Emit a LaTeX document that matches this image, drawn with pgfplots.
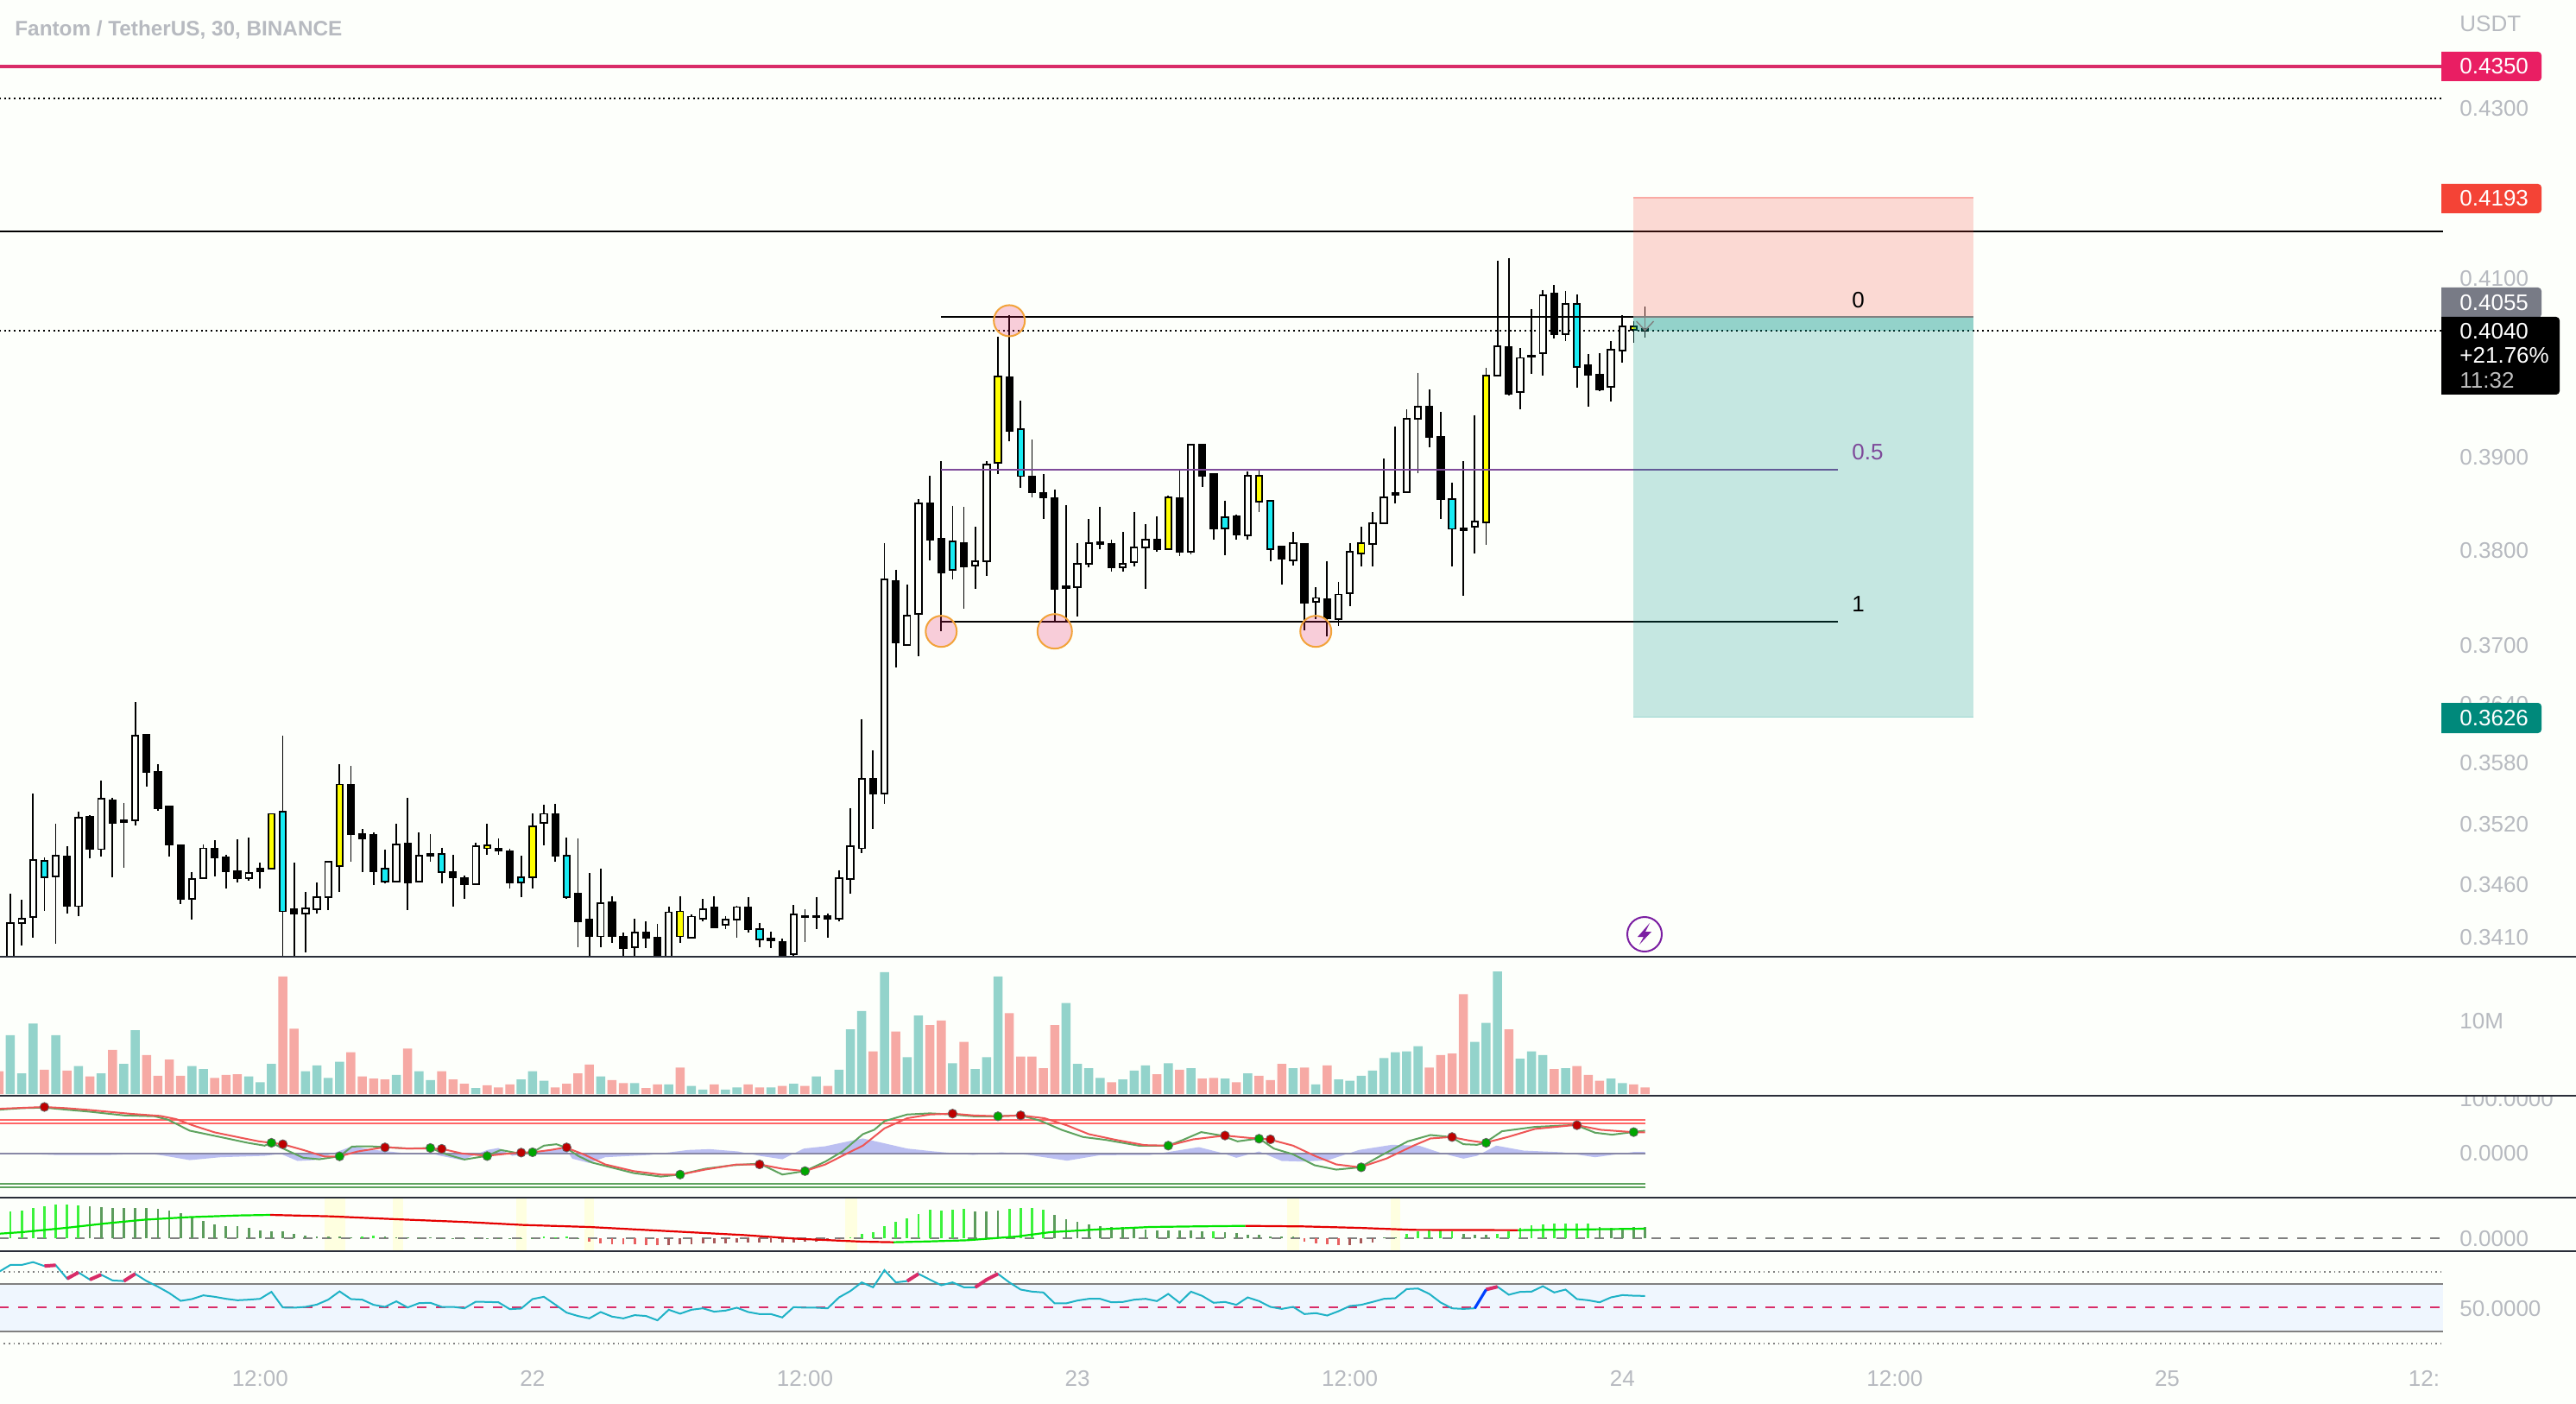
\documentclass[border=0pt]{standalone}
\usepackage{fontspec}
\setmainfont{Liberation Sans}
\usepackage{pgfplots}
\usepackage{pgfplotstable}
\pgfplotsset{compat=1.18}
\definecolor{bg}{HTML}{FDFFFB}
\definecolor{tickgray}{HTML}{B7BAC0}
\definecolor{sep}{HTML}{2A2E39}
\definecolor{candlew}{HTML}{FDFFFB}
\definecolor{candleb}{HTML}{000000}
\definecolor{candley}{HTML}{FFFF00}
\definecolor{candlec}{HTML}{18ECF4}
\definecolor{volt}{HTML}{93D3CB}
\definecolor{volr}{HTML}{F6A9A4}
\definecolor{crim}{HTML}{D92C68}
\definecolor{fibp}{HTML}{7E4A9A}
\definecolor{stopr}{HTML}{F44336}
\definecolor{targ}{HTML}{009688}
\definecolor{kgreen}{HTML}{5EA35E}
\definecolor{dred}{HTML}{EE5555}
\definecolor{areab}{HTML}{BBBFF1}
\definecolor{baseg}{HTML}{8888A6}
\definecolor{ringo}{HTML}{F2A33A}
\definecolor{ringf}{HTML}{E91E63}
\definecolor{stbright}{HTML}{3CF23C}
\definecolor{stdark}{HTML}{5C9C5C}
\definecolor{stred}{HTML}{E86060}
\definecolor{stdred}{HTML}{A85A5A}
\definecolor{rsil}{HTML}{1FB2C6}
\definecolor{band}{HTML}{EFF6FE}
\definecolor{hl}{HTML}{FEFFE0}
\pgfplotstableread{
i O H L C k
0 .3388 .3451 .3375 .3423 w
1 .3423 .3445 .3401 .3427 w
2 .3428 .3549 .3409 .3484 w
3 .3483 .3486 .3434 .3467 c
4 .3468 .3519 .3403 .3488 w
5 .3487 .3497 .3432 .3439 b
6 .3439 .3531 .3430 .3525 w
7 .3526 .3528 .3485 .3494 b
8 .3494 .3562 .3487 .3544 w
9 .3542 .3545 .3467 .3520 b
10 .3523 .3540 .3476 .3521 b
11 .3523 .3641 .3518 .3607 w
12 .3608 .3608 .3556 .3571 b
13 .3571 .3578 .3532 .3534 b
14 .3536 .3536 .3487 .3499 b
15 .3498 .3499 .3441 .3446 b
16 .3446 .3472 .3426 .3465 w
17 .3466 .3499 .3466 .3495 w
18 .3495 .3503 .3468 .3486 b
19 .3486 .3489 .3456 .3473 b
20 .3473 .3504 .3462 .3466 b
21 .3466 .3506 .3464 .3471 w
22 .3475 .3481 .3456 .3473 b
23 .3475 .3529 .3475 .3529 y
24 .3531 .3607 .3380 .3434 c
25 .3436 .3481 .3380 .3432 b
26 .3432 .3453 .3395 .3437 w
27 .3436 .3462 .3432 .3448 w
28 .3448 .3482 .3435 .3482 w
29 .3478 .3578 .3453 .3558 y
30 .3558 .3577 .3482 .3509 b
31 .3509 .3514 .3472 .3505 b
32 .3508 .3511 .3459 .3473 b
33 .3475 .3494 .3461 .3463 c
34 .3463 .3519 .3463 .3499 w
35 .3500 .3545 .3435 .3462 b
36 .3463 .3511 .3463 .3488 w
37 .3490 .3509 .3482 .3488 b
38 .3490 .3496 .3461 .3472 c
39 .3472 .3489 .3438 .3467 b
40 .3466 .3469 .3446 .3460 b
41 .3460 .3501 .3460 .3497 w
42 .3495 .3519 .3489 .3498 y
43 .3495 .3505 .3489 .3493 b
44 .3492 .3495 .3456 .3462 b
45 .3467 .3488 .3448 .3462 c
46 .3467 .3529 .3456 .3517 y
47 .3520 .3538 .3498 .3529 w
48 .3529 .3539 .3482 .3488 b
49 .3488 .3506 .3446 .3448 c
50 .3451 .3505 .3400 .3424 b
51 .3426 .3471 .3380 .3410 b
52 .3410 .3475 .3400 .3442 w
53 .3443 .3449 .3404 .3410 b
54 .3410 .3414 .3380 .3399 b
55 .3400 .3427 .3380 .3414 w
56 .3414 .3424 .3399 .3409 b
57 .3409 .3422 .3380 .3386 b
58 .3386 .3438 .3380 .3433 w
59 .3410 .3449 .3404 .3434 y
60 .3409 .3431 .3408 .3429 w
61 .3427 .3446 .3424 .3436 w
62 .3438 .3449 .3419 .3419 b
63 .3421 .3430 .3417 .3426 w
64 .3426 .3439 .3409 .3438 w
65 .3438 .3448 .3414 .3417 b
66 .3417 .3423 .3400 .3407 c
67 .3408 .3415 .3399 .3406 b
68 .3405 .3408 .3389 .3392 b
69 .3393 .3440 .3389 .3431 w
70 .3430 .3436 .3405 .3428 b
71 .3430 .3448 .3417 .3428 b
72 .3430 .3432 .3409 .3427 b
73 .3427 .3474 .3425 .3466 w
74 .3465 .3535 .3451 .3497 w
75 .3495 .3624 .3491 .3564 w
76 .3564 .3592 .3514 .3549 b
77 .3549 .3807 .3539 .3768 w
78 .3767 .3779 .3677 .3702 b
79 .3700 .3763 .3699 .3731 w
80 .3732 .3854 .3688 .3849 w
81 .3849 .3880 .3789 .3811 b
82 .3812 .3895 .3714 .3776 b
83 .3809 .3847 .3768 .3779 c
84 .3807 .3846 .3738 .3782 b
85 .3783 .3824 .3758 .3788 w
86 .3788 .3895 .3772 .3892 w
87 .3893 .4033 .3881 .3989 y
88 .3988 .4057 .3917 .3929 b
89 .3930 .3962 .3866 .3879 c
90 .3879 .3919 .3856 .3861 b
91 .3861 .3881 .3833 .3856 b
92 .3855 .3865 .3723 .3758 b
93 .3761 .3848 .3724 .3759 b
94 .3760 .3807 .3729 .3785 w
95 .3785 .3833 .3781 .3807 w
96 .3808 .3846 .3801 .3806 b
97 .3806 .3810 .3777 .3781 b
98 .3781 .3819 .3777 .3785 w
99 .3787 .3841 .3782 .3802 w
100 .3802 .3827 .3758 .3811 w
101 .3811 .3836 .3798 .3801 b
102 .3801 .3858 .3800 .3856 y
103 .3855 .3885 .3793 .3798 b
104 .3798 .3914 .3795 .3913 w
105 .3913 .3913 .3867 .3880 b
106 .3881 .3881 .3810 .3823 b
107 .3835 .3853 .3794 .3823 c
108 .3836 .3838 .3810 .3816 b
109 .3815 .3884 .3810 .3880 w
110 .3851 .3887 .3841 .3880 y
111 .3852 .3853 .3788 .3801 c
112 .3803 .3803 .3763 .3790 b
113 .3789 .3819 .3783 .3807 w
114 .3806 .3806 .3715 .3744 b
115 .3745 .3760 .3727 .3749 w
116 .3748 .3788 .3709 .3728 b
117 .3727 .3766 .3720 .3753 w
118 .3754 .3807 .3740 .3798 w
119 .3796 .3824 .3782 .3807 y
120 .3806 .3840 .3782 .3828 w
121 .3828 .3898 .3827 .3856 w
122 .3861 .3934 .3850 .3859 b
123 .3862 .3952 .3862 .3942 w
124 .3942 .3993 .3882 .3955 w
125 .3955 .3974 .3911 .3922 b
126 .3922 .3949 .3833 .3854 b
127 .3854 .3872 .3782 .3822 c
128 .3823 .3895 .3751 .3821 b
129 .3824 .3946 .3796 .3830 w
130 .3829 .3998 .3805 .3990 y
131 .3990 .4120 .3989 .4022 w
132 .4021 .4123 .3968 .3970 b
133 .3971 .4020 .3952 .4009 w
134 .4012 .4064 .3992 .4010 b
135 .4014 .4086 .3990 .4080 w
136 .4082 .4092 .4031 .4036 b
137 .4036 .4085 .4028 .4070 w
138 .4070 .4081 .3976 .3999 c
139 .4001 .4013 .3955 .3991 b
140 .3991 .4014 .3973 .3974 b
141 .3978 .4028 .3961 .4018 w
142 .4017 .4057 .4004 .4045 w
143 .4041 .4050 .4026 .4045 y
144 .4042 .4067 .4032 .4040 b
}\candles
\newcommand\drawcandles{%
 \pgfplotsforeachungrouped \r in {0,...,144}{%
  \pgfplotstablegetelem{\r}{i}\of\candles\let\ci\pgfplotsretval
  \pgfplotstablegetelem{\r}{O}\of\candles\let\cO\pgfplotsretval
  \pgfplotstablegetelem{\r}{H}\of\candles\let\cH\pgfplotsretval
  \pgfplotstablegetelem{\r}{L}\of\candles\let\cL\pgfplotsretval
  \pgfplotstablegetelem{\r}{C}\of\candles\let\cC\pgfplotsretval
  \pgfplotstablegetelem{\r}{k}\of\candles\let\ck\pgfplotsretval
  \pgfmathsetmacro\xl{\ci-0.28}\pgfmathsetmacro\xr{\ci+0.28}%
  \edef\tmp{\noexpand\addplot[forget plot,black,line width=.9pt] coordinates {(\ci,\cH)(\ci,\cL)};
   \noexpand\addplot[forget plot,draw=black,line width=.95pt,fill=candle\ck] coordinates {(\xl,\cO)(\xr,\cO)(\xr,\cC)(\xl,\cC)} --cycle;}%
  \tmp
 }}
\pgfplotsset{panel/.style={scale only axis,width=1415pt,xmin=-0.9125,xmax=214.3,
  axis line style={draw=none},major tick length=0pt,minor tick length=0pt,xtick=\empty,
  ytick pos=right,yticklabel pos=right,
  tick label style={font=\fontsize{13}{15}\selectfont,text=tickgray},
  yticklabel style={anchor=west,xshift=6.2pt,yshift=-.4pt},
  anchor=north west}}
\begin{document}
\begin{tikzpicture}
\path[use as bounding box,fill=bg] (0pt,0pt) rectangle (1492pt,-813pt);
%% price panel
\begin{axis}[panel,at={(0pt,0pt)},height=553.5pt,ymode=log,ymin=0.33914,ymax=0.44314,
  ytick={0.341,0.346,0.352,0.358,0.364,0.37,0.38,0.39,0.41,0.43},minor ytick={},
  yticklabels={0.3410,0.3460,0.3520,0.3580,0.3640,0.3700,0.3800,0.3900,0.4100,0.4300}]
\addplot[forget plot,crim,line width=1.8pt] coordinates {(-1,.4350)(214.3,.4350)};
\addplot[forget plot,black,line width=1pt,dash pattern=on 1pt off 1.85pt] coordinates {(-1,.4311)(214.3,.4311)};
\addplot[forget plot,black,line width=1pt] coordinates {(-1,.4154)(214.3,.4154)};
\addplot[forget plot,black,line width=1pt,dash pattern=on 1pt off 1.85pt] coordinates {(-1,.4040)(214.3,.4040)};
\drawcandles
\addplot[forget plot,black,line width=.95pt] coordinates {(82,.4055)(161,.4055)};
\addplot[forget plot,fibp,line width=1pt] coordinates {(82,.3886)(161,.3886)};
\addplot[forget plot,black,line width=.95pt] coordinates {(82,.3724)(161,.3724)};
\addplot[forget plot,only marks,mark=*,mark size=9pt,mark options={fill=ringf,fill opacity=.22,draw=ringo,line width=1pt}] coordinates {(88,.4051)(82,.3714)(115,.3714)};
\addplot[forget plot,only marks,mark=*,mark size=10pt,mark options={fill=ringf,fill opacity=.22,draw=ringo,line width=1pt}] coordinates {(92,.3714)};
\addplot[forget plot,draw=none,fill=stopr,fill opacity=.2] coordinates {(143,.4055)(172.9,.4055)(172.9,.4193)(143,.4193)} --cycle;
\addplot[forget plot,draw=none,fill=targ,fill opacity=.22] coordinates {(143,.3626)(172.9,.3626)(172.9,.4055)(143,.4055)} --cycle;
\addplot[forget plot,draw=none,fill=targ,fill opacity=.25] coordinates {(143,.4040)(172.9,.4040)(172.9,.4055)(143,.4055)} --cycle;
\addplot[forget plot,gray,line width=1pt] coordinates {(143,.4055)(172.9,.4055)};
\addplot[forget plot,stopr!45,line width=.6pt] coordinates {(143,.4193)(172.9,.4193)};
\addplot[forget plot,targ!40,line width=.6pt] coordinates {(143,.3626)(172.9,.3626)};
\addplot[forget plot,gray,line width=.7pt] coordinates {(143.24,.40504)(144,.4040)(144.76,.40504)};
\addplot[forget plot,gray,line width=.7pt] coordinates {(144,.4055)(144,.4040)};
\end{axis}
%% volume panel
\begin{axis}[panel,at={(0pt,-554pt)},height=80.5pt,ymin=-0.235,ymax=18.7,ytick={10},yticklabels={10M}]
\addplot[forget plot,ybar,bar width=5.25pt,bar shift=0pt,fill=volt,draw=none] coordinates {(0,8.0)(1,2.8)(2,9.6)(4,8.0)(6,3.8)(8,2.8)(10,4.1)(11,8.7)(16,3.8)(17,3.4)(21,2.4)(22,1.6)(23,4.1)(26,3.1)(27,3.9)(28,2.2)(29,4.4)(34,2.6)(36,3.1)(37,1.9)(41,.8)(45,2.0)(46,3.1)(47,1.8)(52,2.4)(55,1.5)(58,1.3)(60,1.1)(61,.6)(63,.6)(64,.9)(67,.9)(69,1.4)(71,2.4)(73,3.3)(74,8.8)(75,11.3)(77,16.6)(79,5.0)(80,10.7)(83,4.2)(85,3.4)(86,5.0)(87,16.0)(93,12.4)(94,4.1)(95,3.5)(96,2.2)(98,2.0)(99,3.2)(100,3.9)(102,4.2)(104,3.5)(107,2.1)(109,2.8)(113,3.5)(115,1.3)(117,2.0)(118,1.8)(119,2.5)(120,3.2)(121,4.9)(122,5.7)(123,5.8)(124,6.5)(129,7.1)(130,9.7)(131,16.7)(133,4.8)(134,5.8)(135,5.3)(137,3.5)(141,2.1)(142,1.5)};
\addplot[forget plot,ybar,bar width=5.25pt,bar shift=0pt,fill=volr,draw=none] coordinates {(-1,3.1)(3,3.3)(5,3.2)(7,2.4)(9,6.0)(12,5.3)(13,2.5)(14,4.7)(15,2.5)(18,2.2)(19,2.6)(20,2.7)(24,16.0)(25,8.9)(30,5.7)(31,2.4)(32,2.1)(33,2.0)(35,6.2)(38,3.1)(39,2.0)(40,1.4)(42,1.2)(43,.9)(44,1.3)(48,.9)(49,1.4)(50,2.8)(51,4.0)(53,1.9)(54,1.5)(56,.8)(57,1.3)(59,3.6)(62,1.3)(65,1.3)(66,.9)(68,1.1)(70,1.1)(72,1.1)(76,5.8)(78,8.5)(81,9.4)(82,10.0)(84,7.1)(88,11.0)(89,5.1)(90,5.1)(91,3.5)(92,9.4)(97,1.6)(101,2.7)(103,3.3)(105,2.1)(106,2.2)(108,1.6)(110,2.5)(111,1.9)(112,4.1)(114,3.6)(116,3.9)(125,3.6)(126,5.3)(127,5.5)(128,13.6)(132,8.8)(136,3.4)(138,3.8)(139,2.6)(140,1.8)(143,1.3)(144,.9)};
\end{axis}
%% oscillator panel
\begin{axis}[panel,at={(0pt,-634.5pt)},height=59pt,ymin=-81.6,ymax=104.2,ytick={0,100},yticklabels={0.0000,100.0000}]
\addplot[forget plot,fill=areab,draw=none] coordinates {(-.9,0)(3.9,-3.7)(8.8,-3.7)(12.2,-1.1)(13.6,-5.3)(15.8,-13.2)(18.5,-7.9)(22.4,-5.3)(23.8,-1.6)(25.3,-14.7)(26.7,-13.2)(28.2,-2.6)(30.1,12.1)(32.1,5.3)(35,-1.1)(36.9,0)(37.9,-5.3)(39.8,-13.2)(42,5.3)(43,8.9)(44.2,-5.3)(46.1,0)(48.9,7.9)(49.5,-10.5)(51,-18.4)(52.4,-7.9)(56.3,-3.7)(59.7,5.3)(61.6,6.8)(64.1,2.6)(66,-5.3)(68,-11.6)(69.9,7.9)(71.8,12.1)(73.8,21)(75.1,26.3)(77,17.4)(79,7.9)(81.4,2.6)(84.8,-3.7)(87.3,1.1)(89.7,-3.7)(93.1,-14.2)(96,-4.2)(100.4,-3.7)(102.3,2.6)(104.7,10.5)(106.7,0)(108,-8.9)(110,2.6)(112,-14.7)(113.9,-15.8)(116.1,-13.2)(118.8,5.3)(121.7,14.7)(124.1,13.2)(126,0)(128,-10.5)(129.2,-5.3)(130.9,13.2)(133.3,4.2)(136.7,1.1)(139.6,-7.9)(143,1.6)(144,1.6)} \closedcycle;
\addplot[forget plot,baseg,line width=.9pt] coordinates {(-1,-1)(144,-1)};
\addplot[forget plot,red!60,line width=.8pt] coordinates {(-1,60)(144,60)};
\addplot[forget plot,red!60,line width=.8pt] coordinates {(-1,53.7)(144,53.7)};
\addplot[forget plot,kgreen,line width=.8pt] coordinates {(-1,-56)(144,-56)};
\addplot[forget plot,kgreen,line width=.8pt] coordinates {(-1,-63)(144,-63)};
\addplot[forget plot,kgreen,line width=1pt] coordinates {(-.9,78.9)(1,81.6)(3,82.6)(4.9,78.9)(6.9,75.3)(10,68.4)(12.7,66.8)(13.9,60.5)(15.8,40.5)(18.5,28.9)(20.9,18.4)(22.4,13.2)(23,18.4)(24.3,5.3)(25.8,-8.9)(27.2,-11.6)(29,-6.3)(30.1,11.6)(31.6,12.1)(33,10.5)(35,7.9)(37,8.9)(38.4,-2.6)(40,-12.1)(42,-5.3)(43.2,5.3)(45,-1.6)(46,1.1)(47,13.2)(48.1,15.8)(48.9,10)(50,-5.3)(51.2,-17.4)(52.9,-26.3)(54.9,-36.8)(57.3,-43.2)(59,-39.5)(61.2,-28.9)(63.6,-22.6)(66,-19.5)(68,-39.5)(70,-33.2)(71.8,-15.8)(73.3,2.6)(75.1,34.2)(76.1,42.1)(77,57.9)(79,70)(81,72.1)(83,70)(84.8,66.8)(87,66.8)(89,68.4)(90.7,58.9)(92.6,42.1)(94.5,28.9)(96.5,23.7)(99.4,13.2)(102,13.2)(103.3,23.7)(104.9,37.9)(106.7,31.6)(108.1,21)(110,26.3)(111.3,7.9)(113,-2.6)(114.9,-22.6)(116.8,-30.5)(118.9,-26.3)(120.7,-5.3)(123.1,21)(125.1,32.6)(126.9,28.9)(128,15.8)(129.2,14.7)(129.9,18.4)(131.4,39.5)(134.3,47.4)(137.9,51)(139.6,36.8)(141.1,33.2)(142.9,37.9)(144,40.5)};
\addplot[forget plot,dred,line width=1pt] coordinates {(-.9,80.5)(1,82.1)(3,83.7)(4.9,81.6)(6.9,78.4)(8.8,74.7)(10.7,71.1)(13.2,67.4)(14.6,61.6)(16.1,50)(18,37.4)(20,28.9)(21.9,21)(24,15.8)(25.8,5.3)(27.7,-6.8)(29,-6.3)(30.6,2.6)(33,10.5)(35,7.9)(36.9,7.9)(38,7.4)(39.8,-1.1)(42,-5.3)(43.7,-1.6)(45,.5)(46,1.1)(47.6,5.3)(48.9,10)(50.5,-2.6)(52.4,-21)(54.9,-33.2)(57.3,-39.5)(59,-39.5)(61.2,-30.5)(64,-21)(66,-21)(68,-28.9)(70,-33.2)(71.8,-21)(73.8,0)(75.1,13.2)(77,44.7)(79,63.2)(81,70)(83,71.6)(84.8,68.4)(87,66.8)(89,68.4)(91.1,63.2)(93.1,50)(95,34.2)(97.4,23.7)(99.9,14.2)(102,13.2)(104.2,24.7)(107,31.6)(109.1,27.4)(110.9,24.7)(113,13.2)(114.9,-5.3)(116.8,-21)(118.9,-26.3)(121.2,-10.5)(123.6,13.2)(125.1,26.3)(126.9,28.9)(128.5,22.6)(129.9,18.4)(131.9,28.9)(134.3,43.7)(137.9,51)(140.1,42.1)(142.9,37.9)(144,37.4)};
\addplot[forget plot,only marks,mark=*,mark size=2.6pt,mark options={fill=red!75!black,draw=black!60,line width=.4pt}] coordinates {(3,83.7)(24,15.8)(33,10)(38,7.4)(45,.5)(49,10)(66,-21)(83,71.6)(89,68.4)(107,31.6)(111,24.7)(127,28.9)(138,50.5)};
\addplot[forget plot,only marks,mark=*,mark size=2.6pt,mark options={fill=green!65!black,draw=black!60,line width=.4pt}] coordinates {(23,18.4)(29,-6.3)(37,8.9)(42,-5.8)(46,1.1)(59,-39.5)(70,-33.2)(87,66.8)(102,13.2)(110,25.8)(119,-26.3)(130,18.4)(143,37.9)};
\end{axis}
%% momentum panel
\begin{axis}[panel,at={(0pt,-693.5pt)},height=31pt,ymin=-4.5,ymax=14.1,ytick={0},yticklabels={0.0000}]
\addplot[forget plot,fill=hl,draw=none] coordinates {(27.7,-4.5)(29.5,-4.5)(29.5,14.1)(27.7,14.1)} --cycle;
\addplot[forget plot,fill=hl,draw=none] coordinates {(33.7,-4.5)(34.6,-4.5)(34.6,14.1)(33.7,14.1)} --cycle;
\addplot[forget plot,fill=hl,draw=none] coordinates {(44.6,-4.5)(45.5,-4.5)(45.5,14.1)(44.6,14.1)} --cycle;
\addplot[forget plot,fill=hl,draw=none] coordinates {(50.6,-4.5)(51.4,-4.5)(51.4,14.1)(50.6,14.1)} --cycle;
\addplot[forget plot,fill=hl,draw=none] coordinates {(73.5,-4.5)(74.6,-4.5)(74.6,14.1)(73.5,14.1)} --cycle;
\addplot[forget plot,fill=hl,draw=none] coordinates {(112.5,-4.5)(113.5,-4.5)(113.5,14.1)(112.5,14.1)} --cycle;
\addplot[forget plot,fill=hl,draw=none] coordinates {(121.6,-4.5)(122.4,-4.5)(122.4,14.1)(121.6,14.1)} --cycle;
\addplot[forget plot,gray,line width=1pt,dash pattern=on 5.5pt off 5.5pt] coordinates {(-1,0)(214.3,0)};
\addplot[forget plot,ycomb,stdark,line width=1.4pt] coordinates {(7,11.1)(8,10.9)(9,10.6)(10,10.6)(11,10.6)(12,10.6)(13,10.1)(14,9.5)(15,8.6)(16,7.1)(17,5.9)(18,4.9)(19,4.3)(20,4.1)(21,3.5)(22,2.8)(23,2.4)(24,2.3)(25,1.6)(26,.8)(27,.6)(28,.5)(29,.5)(30,.4)(33,.5)(34,.4)(35,.3)(36,.3)(37,.2)(38,.1)(39,.1)(40,.1)(41,.1)(42,.1)(43,.1)(44,.1)(45,.1)(46,.1)(50,.1)(85,9.3)(86,9.3)(87,9.6)(92,8.1)(93,6.6)(94,5.6)(95,4.8)(96,4.1)(97,3.8)(98,3.8)(99,3.5)(100,3.1)(101,2.8)(102,2.8)(103,2.6)(104,2.6)(105,2.3)(107,2.1)(108,1.8)(109,1.1)(110,1.1)(111,.7)(112,.7)(113,.5)(121,.3)(122,.4)(128,1.6)(129,1.1)(130,1.1)(140,3.8)(141,3.6)(142,3.6)(143,3.8)(144,3.8)};
\addplot[forget plot,ycomb,stbright,line width=1.4pt] coordinates {(0,9.3)(1,9.6)(2,10.4)(3,11.1)(4,11.8)(5,11.6)(6,11.4)(31,.6)(32,.8)(47,.5)(48,.4)(49,.5)(74,.3)(75,1.6)(76,2.1)(77,4.1)(78,5.6)(79,6.8)(80,8.3)(81,9.8)(82,9.6)(83,10)(84,10.1)(88,10.3)(89,10.4)(90,10.4)(91,9.8)(106,2.3)(123,1.6)(124,2.3)(125,2.9)(126,3.1)(127,2.3)(131,1.6)(132,2.3)(133,3.6)(134,4.6)(135,4.9)(136,5.1)(137,5.1)(138,5.1)(139,5.1)};
\addplot[forget plot,ycomb,stred,line width=1.4pt] coordinates {(51,-1.1)(52,-1.7)(53,-2.1)(54,-2.1)(55,-2.1)(56,-2.4)(57,-2.4)(114,-1.1)(115,-1.7)(116,-2.1)(117,-2.3)};
\addplot[forget plot,ycomb,stdred,line width=1.4pt] coordinates {(58,-2.4)(59,-2.2)(60,-2.2)(61,-1.9)(62,-1.7)(63,-1.7)(64,-1.5)(65,-1.4)(66,-1.4)(67,-1.4)(68,-1.4)(69,-1.4)(70,-1.1)(71,-1.1)(72,-.9)(73,-.4)(118,-2.3)(119,-1.9)(120,-1.4)};
\addplot[forget plot,green!90!black,line width=1.1pt] coordinates {(-.9,1.6)(1,2.1)(4.9,3.6)(8.3,5.1)(11.7,6.4)(15.6,7.3)(20,7.9)(22.9,8.1)};
\addplot[forget plot,red!90!black,line width=1.1pt] coordinates {(22.9,8.1)(28.2,7.6)(34,6.6)(40.3,5.6)(45.2,4.6)(51,3.9)(57.3,2.6)(64.6,1.1)(69.4,-.2)(75.1,-1.2)(77.8,-1.4)};
\addplot[forget plot,green!90!black,line width=1.1pt] coordinates {(77.8,-1.4)(81,-1.1)(84.3,-.7)(88.7,.6)(91.6,2.1)(96,3.1)(100.4,3.9)(104.2,4.1)(108.8,4.3)};
\addplot[forget plot,red!90!black,line width=1.1pt] coordinates {(108.8,4.3)(113.9,4.1)(118.8,3.6)(123.6,2.9)(132.8,2.8)};
\addplot[forget plot,green!90!black,line width=1.1pt] coordinates {(132.8,2.8)(144,3.3)};
\end{axis}
%% RSI panel
\begin{axis}[panel,at={(0pt,-724.5pt)},height=60.5pt,ymin=10.05,ymax=97.1,ytick={50},yticklabels={50.0000},
  xtick={22,46,70,94,118,142,166,190,214},
  xticklabels={12:00,22,12:00,23,12:00,24,12:00,25,\makebox[0pt][r]{12:}},
  xticklabel style={yshift=-5pt}]
\addplot[forget plot,fill=band,draw=none] coordinates {(-1,30)(214.3,30)(214.3,70)(-1,70)} --cycle;
\addplot[forget plot,gray,line width=1pt] coordinates {(-1,70)(214.3,70)};
\addplot[forget plot,gray,line width=1pt] coordinates {(-1,30)(214.3,30)};
\addplot[forget plot,gray,line width=.8pt,dash pattern=on .8pt off 2pt] coordinates {(-1,80)(214.3,80)};
\addplot[forget plot,gray,line width=.8pt,dash pattern=on .8pt off 2pt] coordinates {(-1,20.3)(214.3,20.3)};
\addplot[forget plot,crim,line width=1pt,dash pattern=on 5.5pt off 5.5pt] coordinates {(-1,50)(214.3,50)};
\addplot[forget plot,rsil,line width=1pt] table[row sep=\\] {
x y\\ -1 79.9\\ 0 85.6\\ 1 85.6\\ 2 88.0\\ 3 84.7\\ 4 85.4\\ 5 74.2\\ 6 79.4\\ 7 73.4\\ 8 77.5\\ 9 72.7\\ 10 72.2\\ 11 78.2\\ 12 72.2\\ 13 67.5\\ 14 62.2\\ 15 55.7\\ 16 57.2\\ 17 60.3\\ 18 59.1\\ 19 57.4\\ 20 56.2\\ 21 56.7\\ 22 57.4\\ 23 63.2\\ 24 50.2\\ 25 50\\ 26 50.7\\ 27 52.6\\ 28 56.7\\ 29 63.6\\ 30 57.2\\ 31 56.7\\ 32 52.4\\ 33 50.7\\ 34 55.3\\ 35 50.2\\ 36 53.8\\ 37 54.1\\ 38 50.7\\ 39 50.7\\ 40 49.5\\ 41 55\\ 42 54.8\\ 43 54.5\\ 44 48.8\\ 45 49.3\\ 46 57.2\\ 47 59.1\\ 48 52.6\\ 49 45.9\\ 50 43.1\\ 51 41.1\\ 52 46.4\\ 53 42.6\\ 54 41.1\\ 55 43.8\\ 56 43.1\\ 57 39.5\\ 58 48.3\\ 59 45\\ 60 48.3\\ 61 49.5\\ 62 46.7\\ 63 47.6\\ 64 50\\ 65 46.4\\ 66 44.7\\ 67 44.7\\ 68 41.9\\ 69 50.5\\ 70 50\\ 71 50\\ 72 49.5\\ 73 58.6\\ 74 63.9\\ 75 71.1\\ 76 67\\ 77 81.3\\ 78 71.1\\ 79 72.2\\ 80 78.2\\ 81 73.4\\ 82 68.7\\ 83 71.1\\ 84 67\\ 85 67\\ 86 73.4\\ 87 78.2\\ 88 71.1\\ 89 65.1\\ 90 63.4\\ 91 62.7\\ 92 53.6\\ 93 53.6\\ 94 56\\ 95 57.4\\ 96 57.4\\ 97 54.5\\ 98 54.8\\ 99 56.7\\ 100 57.4\\ 101 55.5\\ 102 61.5\\ 103 54.1\\ 104 63.4\\ 105 59.8\\ 106 54.1\\ 107 54.8\\ 108 52.4\\ 109 58.6\\ 110 55.5\\ 111 50.7\\ 112 49\\ 113 50.7\\ 114 44.7\\ 115 45.5\\ 116 43.5\\ 117 47.1\\ 118 51.4\\ 119 52.4\\ 120 54.8\\ 121 57.4\\ 122 57.9\\ 123 65.5\\ 124 66\\ 125 61.5\\ 126 54.3\\ 127 49.5\\ 128 49\\ 129 49.5\\ 130 65.1\\ 131 67.5\\ 132 60.8\\ 133 63.2\\ 134 63.4\\ 135 67.9\\ 136 62.7\\ 137 65.1\\ 138 57.2\\ 139 56.2\\ 140 54.5\\ 141 58.6\\ 142 60.5\\ 143 60\\ 144 59.8\\
};
\addplot[forget plot,crim,line width=2pt] coordinates {(3,84.7)(4,85.4)};
\addplot[forget plot,crim,line width=2pt] coordinates {(5,74.2)(6,79.4)};
\addplot[forget plot,crim,line width=2pt] coordinates {(7,73.4)(8,77.5)};
\addplot[forget plot,crim,line width=2pt] coordinates {(10,72.2)(11,78.2)};
\addplot[forget plot,crim,line width=2pt] coordinates {(79,72.2)(80,78.2)};
\addplot[forget plot,crim,line width=2pt] coordinates {(85,67)(86,73.4)(87,78.2)};
\addplot[forget plot,crim,line width=2pt] coordinates {(130,65.1)(131,67.5)};
\addplot[forget plot,blue!75!cyan,line width=1.6pt] coordinates {(129,49.5)(130,65.1)};
\end{axis}
%% overlay (pixel coordinates, y downwards)
\begin{scope}[x=.5pt,y=-.5pt,font=\fontsize{13}{15}\selectfont]
\fill[bg] (2835,1250) rectangle (2984,1268);
\foreach \yy in {1108,1269,1387,1449}{\draw[sep,line width=1.15pt] (0,\yy) -- (2984,\yy);}
\node[anchor=west,inner sep=0,text=tickgray,font=\fontsize{12.15}{14}\selectfont\bfseries] at (17,35) {Fantom / TetherUS, 30, BINANCE};
\node[anchor=west,inner sep=0,text=tickgray] at (2849,28) {USDT};
\newcommand\pricetag[5]{\path[fill=#4] (2828,#1) [rounded corners=2pt] -- (#3,#1) -- (#3,#2) [sharp corners] -- (2828,#2) -- cycle;
 \node[anchor=west,inner sep=0,text=white] at (2849,{(#1+#2)/2}) {#5};}
\definecolor{tagc}{HTML}{E91E63}\pricetag{60}{94}{2944}{tagc}{0.4350}
\definecolor{tagd}{HTML}{F44336}\pricetag{213}{247}{2944}{tagd}{0.4193}
\definecolor{tage}{HTML}{787B86}\pricetag{333}{368}{2944}{tage}{0.4055}
\definecolor{tagf}{HTML}{00897B}\pricetag{814}{849}{2944}{tagf}{0.3626}
\path[fill=black] (2828,367) [rounded corners=2pt] -- (2965,367) -- (2965,457) [sharp corners] -- (2828,457) -- cycle;
\node[anchor=west,inner sep=0,text=white] at (2849,384) {0.4040};
\node[anchor=west,inner sep=0,text=white] at (2849,412) {+21.76\%};
\node[anchor=west,inner sep=0,text=white!75!black] at (2849,441) {11:32};
\node[anchor=west,inner sep=0,text=black] at (2145,348) {0};
\node[anchor=west,inner sep=0,text=fibp] at (2145,524) {0.5};
\node[anchor=west,inner sep=0,text=black] at (2145,700) {1};
\definecolor{boltc}{HTML}{7B1FA2}
\draw[boltc,line width=1pt] (1905,1082) circle (20);
\fill[boltc] (1911,1069) -- (1897,1085) -- (1904,1085) -- (1899,1094) -- (1913,1079) -- (1906,1079) -- cycle;
\end{scope}
\end{tikzpicture}
\end{document}
